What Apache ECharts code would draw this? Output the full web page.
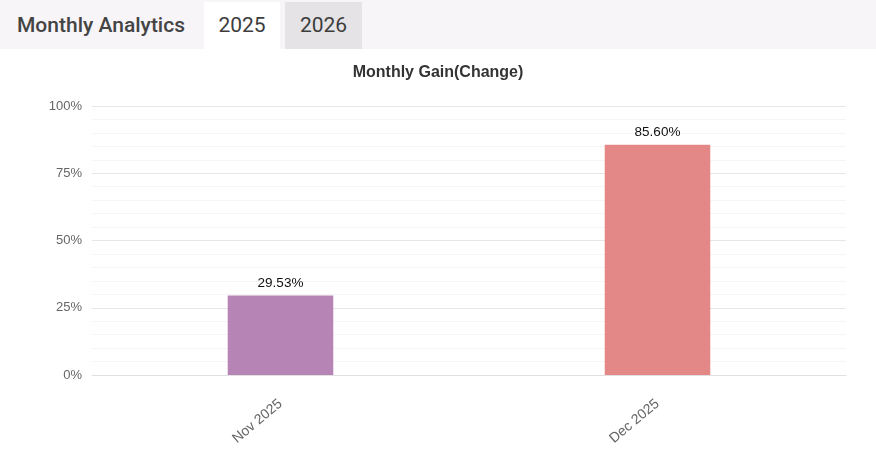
<!DOCTYPE html>
<html>
<head>
<meta charset="utf-8">
<script src="https://cdn.jsdelivr.net/npm/echarts@6/dist/echarts.min.js"></script>
<style>
  html, body { margin: 0; padding: 0; background: #fff; }
  #bar { height: 49px; background: #f7f5f8; position: relative; font-family: Roboto, sans-serif; }
  .tab { position: absolute; top: 2px; height: 47px; line-height: 47px; font-size: 21px; color: #3d3d3d; text-align: center; }
  #title { left: 17px; top: 0; font-weight: 500; color: #444; }
  #t2025 { left: 204px; width: 76px; background: #fff; }
  #t2026 { left: 285px; width: 77px; background: #e5e3e6; }
  #main { width: 876px; height: 413px; }
</style>
</head>
<body>
<div id="bar">
  <div class="tab" id="title" style="height:49px;line-height:51px;">Monthly Analytics</div>
  <div class="tab" id="t2025">2025</div>
  <div class="tab" id="t2026">2026</div>
</div>
<div id="main"></div>
<script>
  const months = ['Nov 2025', 'Dec 2025'];
  const gains = [29.53, 85.60];
  const barColors = ['#b784b6', '#e48787'];
  const yTicks = [0, 25, 50, 75, 100];

  let myChart = echarts.init(document.getElementById('main'));

  myChart.setOption({
    title: {
      text: 'Monthly Gain(Change)',
      left: 'center',
      top: 11,
      textStyle: { fontFamily: 'Liberation Sans, Arial', fontSize: 16, fontWeight: 'bold', color: '#333' }
    },
    grid: { left: 92, right: 30, top: 57, bottom: 87 },
    xAxis: {
      type: 'category',
      data: months,
      axisTick: { show: false },
      axisLine: { lineStyle: { color: '#e0e0e0' } },
      axisLabel: { rotate: 40, color: '#666', fontSize: 14, fontFamily: 'Liberation Sans, Arial', margin: 27 }
    },
    yAxis: {
      type: 'value',
      min: yTicks[0],
      max: yTicks[yTicks.length - 1],
      interval: 25,
      axisLine: { show: false },
      axisTick: { show: false },
      axisLabel: { formatter: '{value}%', color: '#666', fontSize: 13, fontFamily: 'Liberation Sans, Arial', margin: 10 },
      splitLine: { lineStyle: { color: '#e6e6e6' } },
      minorTick: { show: false, splitNumber: 5 },
      minorSplitLine: { show: true, lineStyle: { color: '#f5f5f5' } }
    },
    series: [{
      type: 'bar',
      barWidth: '28%',
      data: gains.map((v, i) => ({ value: v, itemStyle: { color: barColors[i] } })),
      label: {
        show: true,
        position: 'top',
        color: '#111',
        fontSize: 13.5,
        fontFamily: 'Liberation Sans, Arial',
        formatter: p => p.value.toFixed(2) + '%'
      }
    }]
  });
</script>
</body>
</html>
